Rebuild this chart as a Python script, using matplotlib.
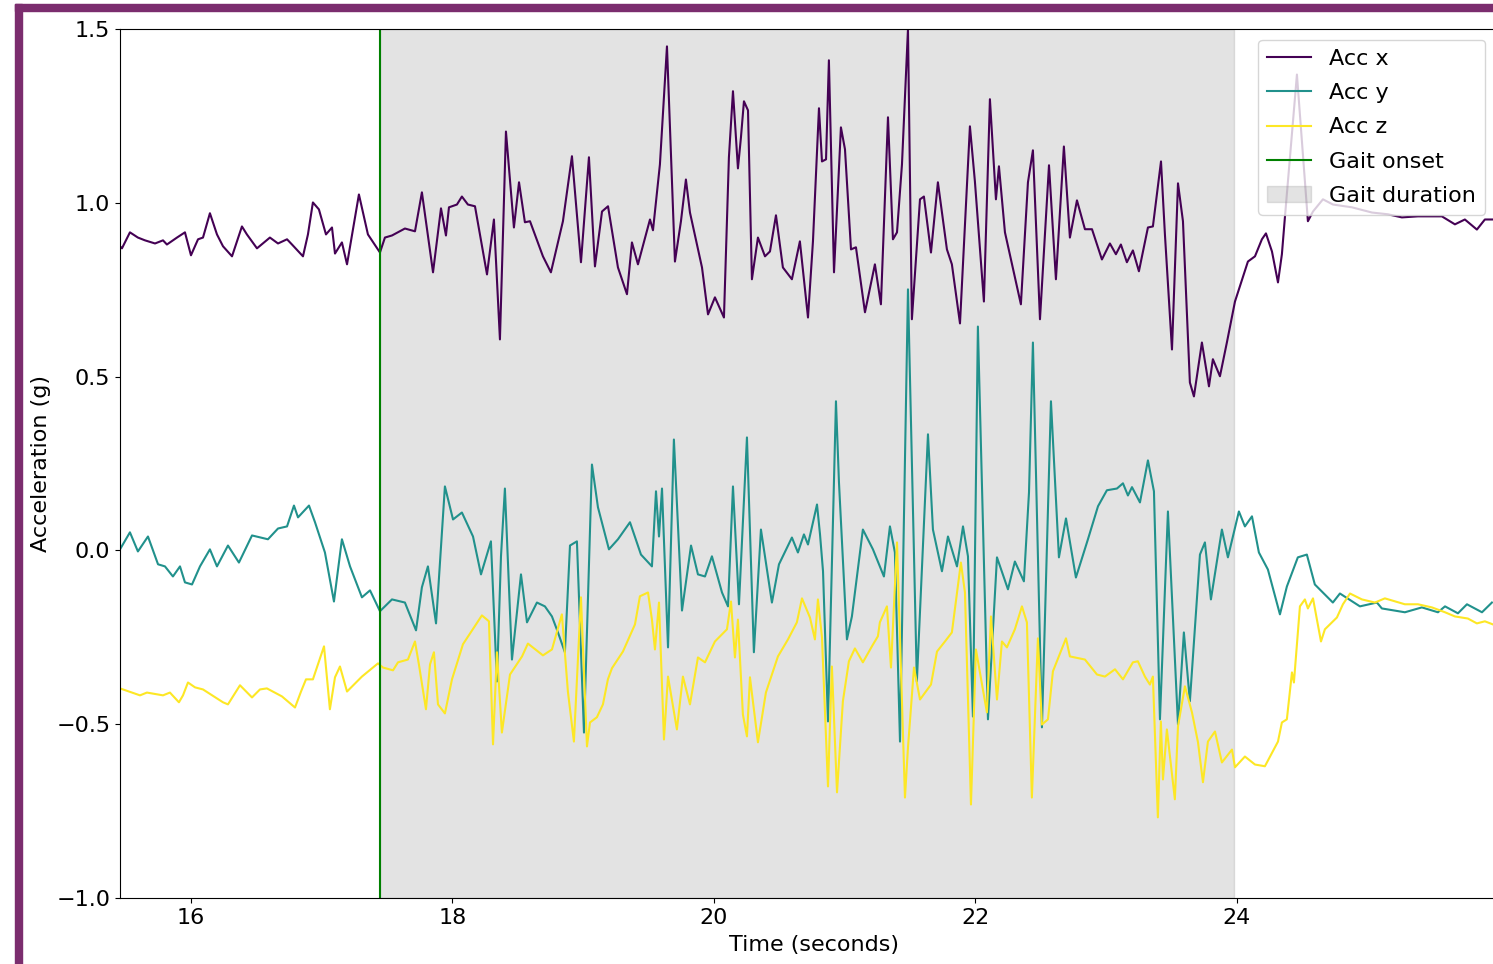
import matplotlib
matplotlib.use("Agg")
import matplotlib.pyplot as plt
from matplotlib.patches import Rectangle

# --- Acc x (purple) ---
t_x = [15.457, 15.472, 15.533, 15.594, 15.648, 15.725, 15.786, 15.816, 15.893, 15.954,
       16.000, 16.054, 16.092, 16.145, 16.199, 16.245, 16.314, 16.390, 16.428, 16.505,
       16.604, 16.666, 16.735, 16.773, 16.857, 16.895, 16.933, 16.979, 17.033, 17.079,
       17.102, 17.155, 17.194, 17.285, 17.354, 17.446, 17.484, 17.538, 17.637, 17.714,
       17.767, 17.852, 17.913, 17.951, 17.974, 18.035, 18.073, 18.119, 18.173, 18.265,
       18.318, 18.364, 18.410, 18.471, 18.510, 18.555, 18.594, 18.693, 18.754, 18.846,
       18.915, 18.984, 19.045, 19.091, 19.145, 19.191, 19.267, 19.336, 19.374, 19.420,
       19.512, 19.535, 19.588, 19.642, 19.703, 19.749, 19.787, 19.818, 19.910, 19.956,
       20.009, 20.078, 20.116, 20.147, 20.185, 20.208, 20.231, 20.262, 20.292, 20.338,
       20.392, 20.430, 20.476, 20.529, 20.598, 20.659, 20.721, 20.759, 20.805, 20.828,
       20.859, 20.881, 20.920, 20.973, 21.004, 21.050, 21.088, 21.157, 21.233, 21.279,
       21.333, 21.371, 21.402, 21.440, 21.486, 21.516, 21.578, 21.608, 21.662, 21.715,
       21.784, 21.822, 21.884, 21.960, 21.998, 22.067, 22.113, 22.159, 22.182, 22.228,
       22.350, 22.404, 22.442, 22.496, 22.565, 22.618, 22.679, 22.725, 22.779, 22.840,
       22.894, 22.970, 23.031, 23.077, 23.115, 23.161, 23.207, 23.253, 23.322, 23.360,
       23.422, 23.452, 23.506, 23.552, 23.590, 23.643, 23.674, 23.735, 23.789, 23.819,
       23.873, 23.926, 23.988, 24.087, 24.141, 24.194, 24.225, 24.271, 24.317, 24.347,
       24.370, 24.462, 24.546, 24.585, 24.661, 24.738, 24.883, 25.036, 25.158, 25.265,
       25.388, 25.571, 25.671, 25.747, 25.839, 25.900, 25.962]
acc_x = [0.875, 0.869, 0.915, 0.900, 0.892, 0.883, 0.892, 0.880, 0.900, 0.915,
         0.849, 0.895, 0.900, 0.970, 0.909, 0.875, 0.846, 0.932, 0.909, 0.869,
         0.900, 0.883, 0.895, 0.880, 0.846, 0.909, 1.001, 0.981, 0.909, 0.929,
         0.854, 0.886, 0.823, 1.024, 0.909, 0.857, 0.900, 0.906, 0.926, 0.918,
         1.030, 0.800, 0.984, 0.906, 0.987, 0.995, 1.018, 0.995, 0.990, 0.794,
         0.952, 0.607, 1.205, 0.929, 1.059, 0.944, 0.947, 0.846, 0.800, 0.947,
         1.134, 0.829, 1.131, 0.817, 0.975, 0.990, 0.814, 0.737, 0.886, 0.823,
         0.952, 0.921, 1.110, 1.450, 0.831, 0.947, 1.067, 0.972, 0.814, 0.679,
         0.728, 0.670, 1.131, 1.321, 1.099, 1.188, 1.292, 1.266, 0.780, 0.900,
         0.846, 0.860, 0.964, 0.814, 0.780, 0.889, 0.670, 0.889, 1.272, 1.119,
         1.125, 1.410, 0.800, 1.217, 1.154, 0.866, 0.872, 0.685, 0.823, 0.708,
         1.246, 0.895, 0.915, 1.110, 1.499, 0.665, 1.010, 1.018, 0.857, 1.059,
         0.866, 0.823, 0.653, 1.220, 1.062, 0.716, 1.298, 1.010, 1.105, 0.915,
         0.708, 1.059, 1.151, 0.665, 1.108, 0.780, 1.162, 0.900, 1.007, 0.924,
         0.924, 0.837, 0.883, 0.852, 0.880, 0.829, 0.863, 0.803, 0.929, 0.932,
         1.119, 0.909, 0.578, 1.056, 0.947, 0.483, 0.443, 0.598, 0.472, 0.550,
         0.501, 0.598, 0.716, 0.831, 0.846, 0.895, 0.912, 0.860, 0.771, 0.852,
         0.958, 1.369, 0.947, 0.975, 1.010, 0.995, 0.987, 0.972, 0.967, 0.958,
         0.961, 0.961, 0.938, 0.952, 0.923, 0.952, 0.952]

# --- Acc y (teal) ---
t_y = [15.457, 15.533, 15.594, 15.671, 15.748, 15.801, 15.862, 15.916, 15.954, 16.008,
       16.069, 16.145, 16.199, 16.283, 16.367, 16.467, 16.589, 16.666, 16.735, 16.788,
       16.819, 16.903, 16.949, 17.025, 17.094, 17.155, 17.217, 17.308, 17.370, 17.446,
       17.538, 17.637, 17.722, 17.767, 17.813, 17.875, 17.943, 18.005, 18.073, 18.158,
       18.219, 18.272, 18.295, 18.341, 18.372, 18.402, 18.456, 18.525, 18.571, 18.647,
       18.708, 18.762, 18.808, 18.861, 18.900, 18.953, 19.007, 19.068, 19.114, 19.198,
       19.267, 19.359, 19.443, 19.527, 19.558, 19.581, 19.604, 19.650, 19.695, 19.757,
       19.826, 19.879, 19.933, 19.986, 20.063, 20.109, 20.147, 20.193, 20.254, 20.307,
       20.361, 20.445, 20.499, 20.598, 20.644, 20.690, 20.721, 20.790, 20.813, 20.836,
       20.874, 20.935, 20.958, 21.019, 21.057, 21.141, 21.218, 21.302, 21.348, 21.386,
       21.425, 21.486, 21.554, 21.639, 21.677, 21.746, 21.792, 21.861, 21.907, 21.945,
       21.983, 22.021, 22.098, 22.167, 22.251, 22.304, 22.373, 22.412, 22.442, 22.511,
       22.580, 22.641, 22.695, 22.771, 22.863, 22.940, 23.008, 23.085, 23.131, 23.169,
       23.200, 23.261, 23.322, 23.368, 23.414, 23.475, 23.552, 23.597, 23.643, 23.720,
       23.758, 23.804, 23.888, 23.934, 24.018, 24.064, 24.118, 24.171, 24.240, 24.332,
       24.385, 24.469, 24.538, 24.599, 24.737, 24.791, 24.944, 25.074, 25.112, 25.288,
       25.418, 25.541, 25.595, 25.694, 25.763, 25.878, 25.954]
acc_y = [0.003, 0.052, -0.003, 0.040, -0.040, -0.046, -0.075, -0.046, -0.092, -0.098,
         -0.046, 0.003, -0.046, 0.014, -0.035, 0.043, 0.032, 0.063, 0.069, 0.129,
         0.095, 0.129, 0.081, -0.006, -0.147, 0.032, -0.046, -0.135, -0.115, -0.175,
         -0.141, -0.150, -0.230, -0.106, -0.046, -0.210, 0.184, 0.089, 0.109, 0.040,
         -0.069, -0.003, 0.026, -0.377, -0.017, 0.178, -0.314, -0.069, -0.207, -0.150,
         -0.161, -0.190, -0.236, -0.293, 0.014, 0.026, -0.524, 0.247, 0.124, 0.003,
         0.032, 0.081, -0.012, -0.046, 0.170, 0.040, 0.178, -0.279, 0.319, -0.173,
         0.014, -0.069, -0.075, -0.017, -0.121, -0.161, 0.184, -0.155, 0.325, -0.293,
         0.060, -0.150, -0.040, 0.037, -0.006, 0.046, 0.017, 0.132, 0.046, -0.060,
         -0.492, 0.429, 0.196, -0.256, -0.190, 0.060, 0.003, -0.075, 0.069, -0.006,
         -0.550, 0.751, -0.377, 0.334, 0.060, -0.060, 0.040, -0.046, 0.069, -0.017,
         -0.478, 0.644, -0.486, -0.020, -0.112, -0.032, -0.089, 0.167, 0.598, -0.509,
         0.429, -0.020, 0.092, -0.078, 0.032, 0.127, 0.173, 0.178, 0.193, 0.158,
         0.182, 0.138, 0.259, 0.170, -0.486, 0.112, -0.501, -0.236, -0.434, -0.012,
         0.023, -0.141, 0.060, -0.020, 0.112, 0.069, 0.098, -0.006, -0.055, -0.184,
         -0.104, -0.020, -0.012, -0.098, -0.150, -0.124, -0.161, -0.150, -0.167, -0.178,
         -0.164, -0.178, -0.161, -0.181, -0.155, -0.178, -0.150]

# --- Acc z (yellow) ---
t_z = [15.457, 15.610, 15.663, 15.786, 15.839, 15.908, 15.939, 15.977, 16.031, 16.092,
       16.245, 16.283, 16.375, 16.467, 16.528, 16.581, 16.696, 16.796, 16.842, 16.880,
       16.933, 17.018, 17.063, 17.102, 17.140, 17.194, 17.308, 17.431, 17.469, 17.546,
       17.584, 17.660, 17.714, 17.744, 17.798, 17.829, 17.859, 17.890, 17.943, 17.997,
       18.081, 18.226, 18.280, 18.311, 18.341, 18.379, 18.441, 18.533, 18.578, 18.693,
       18.762, 18.838, 18.884, 18.930, 18.984, 19.030, 19.053, 19.106, 19.152, 19.190,
       19.221, 19.305, 19.397, 19.435, 19.497, 19.527, 19.550, 19.581, 19.619, 19.650,
       19.718, 19.764, 19.818, 19.879, 19.933, 20.009, 20.101, 20.132, 20.162, 20.185,
       20.223, 20.254, 20.277, 20.338, 20.399, 20.491, 20.568, 20.636, 20.675, 20.736,
       20.774, 20.797, 20.828, 20.874, 20.904, 20.943, 20.988, 21.034, 21.080, 21.141,
       21.210, 21.256, 21.271, 21.325, 21.356, 21.402, 21.463, 21.486, 21.532, 21.578,
       21.662, 21.708, 21.769, 21.822, 21.891, 21.922, 21.968, 22.006, 22.090, 22.121,
       22.167, 22.205, 22.243, 22.304, 22.358, 22.396, 22.434, 22.480, 22.511, 22.557,
       22.595, 22.695, 22.725, 22.840, 22.932, 22.993, 23.070, 23.131, 23.207, 23.245,
       23.299, 23.337, 23.360, 23.398, 23.421, 23.437, 23.467, 23.528, 23.552, 23.605,
       23.659, 23.705, 23.743, 23.781, 23.835, 23.888, 23.965, 23.988, 24.064, 24.141,
       24.217, 24.317, 24.347, 24.385, 24.424, 24.439, 24.485, 24.523, 24.546, 24.585,
       24.646, 24.676, 24.768, 24.814, 24.868, 24.959, 25.059, 25.135, 25.288, 25.388,
       25.495, 25.595, 25.671, 25.770, 25.839, 25.900, 25.962]
acc_z = [-0.397, -0.417, -0.409, -0.417, -0.409, -0.437, -0.417, -0.380, -0.394, -0.400,
         -0.437, -0.443, -0.388, -0.423, -0.400, -0.397, -0.420, -0.452, -0.406, -0.371,
         -0.371, -0.276, -0.457, -0.365, -0.334, -0.406, -0.363, -0.325, -0.337, -0.345,
         -0.322, -0.314, -0.262, -0.328, -0.457, -0.328, -0.293, -0.443, -0.469, -0.371,
         -0.270, -0.187, -0.204, -0.558, -0.293, -0.524, -0.357, -0.305, -0.268, -0.302,
         -0.285, -0.184, -0.406, -0.550, -0.135, -0.564, -0.495, -0.480, -0.443, -0.371,
         -0.339, -0.291, -0.213, -0.132, -0.121, -0.199, -0.285, -0.150, -0.544, -0.363,
         -0.515, -0.363, -0.443, -0.308, -0.322, -0.262, -0.227, -0.147, -0.308, -0.199,
         -0.472, -0.535, -0.365, -0.552, -0.409, -0.305, -0.256, -0.207, -0.138, -0.193,
         -0.256, -0.141, -0.250, -0.679, -0.334, -0.696, -0.434, -0.319, -0.282, -0.322,
         -0.276, -0.247, -0.207, -0.161, -0.337, 0.023, -0.711, -0.567, -0.337, -0.429,
         -0.386, -0.291, -0.262, -0.236, -0.035, -0.121, -0.731, -0.285, -0.466, -0.190,
         -0.429, -0.262, -0.279, -0.227, -0.161, -0.207, -0.711, -0.253, -0.501, -0.486,
         -0.348, -0.253, -0.305, -0.314, -0.357, -0.363, -0.342, -0.371, -0.322, -0.319,
         -0.363, -0.386, -0.363, -0.768, -0.492, -0.659, -0.515, -0.716, -0.506, -0.391,
         -0.466, -0.552, -0.667, -0.550, -0.521, -0.610, -0.573, -0.624, -0.593, -0.616,
         -0.621, -0.550, -0.495, -0.486, -0.351, -0.380, -0.161, -0.141, -0.167, -0.138,
         -0.262, -0.227, -0.193, -0.155, -0.124, -0.141, -0.150, -0.138, -0.155, -0.155,
         -0.164, -0.178, -0.190, -0.196, -0.210, -0.204, -0.213]

gait_onset = 17.45
gait_end = 23.98

fig = plt.figure(figsize=(14.93, 9.64), dpi=100)
# axes run a bit past the right edge (reference is cropped there)
ax = fig.add_axes([120 / 1493, 1 - 898 / 964, 1388 / 1493, 869 / 964])

ax.axvspan(gait_onset, gait_end, color='gray', alpha=0.22, label='Gait duration')
ax.plot(t_x, acc_x, color='#440154', lw=1.5, label='Acc x')
ax.plot(t_y, acc_y, color='#21918c', lw=1.5, label='Acc y')
ax.plot(t_z, acc_z, color='#fde725', lw=1.5, label='Acc z')
ax.axvline(gait_onset, color='green', lw=1.5, label='Gait onset')

ax.set_xlim(15.457, 26.077)
ax.set_ylim(-1.0, 1.5)
ax.set_xticks([16, 18, 20, 22, 24])
ax.set_yticks([-1.0, -0.5, 0.0, 0.5, 1.0, 1.5])
ax.tick_params(labelsize=16)
ax.set_xlabel('Time (seconds)', fontsize=16, labelpad=5)
ax.set_ylabel('Acceleration (g)', fontsize=16)

handles, labels = ax.get_legend_handles_labels()
order = [1, 2, 3, 4, 0]
ax.legend([handles[i] for i in order], [labels[i] for i in order], fontsize=16,
          loc='upper right', bbox_to_anchor=(0.9834, 0.9873), borderaxespad=0,
          labelspacing=0.64)

# purple frame on left and top
frame_col = '#7b2d6e'
fig.patches.append(Rectangle((15 / 1493, 0), 7 / 1493, 1 - 4 / 964,
                             transform=fig.transFigure, color=frame_col, zorder=10))
fig.patches.append(Rectangle((15 / 1493, 1 - 11 / 964), 1 - 15 / 1493, 7 / 964,
                             transform=fig.transFigure, color=frame_col, zorder=10))

fig.savefig('out.png', dpi=100)
